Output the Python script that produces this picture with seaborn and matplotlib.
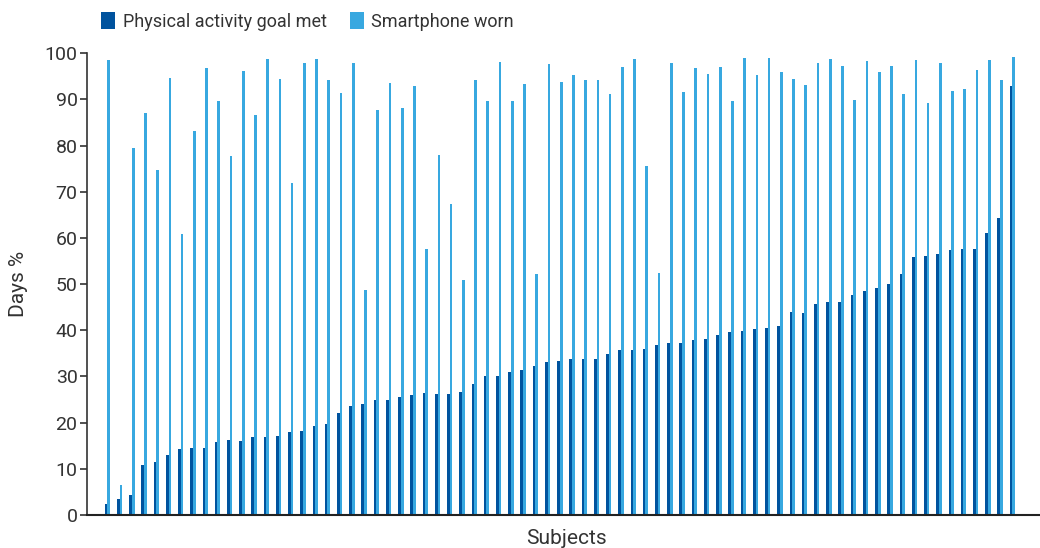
import pandas as pd
import seaborn as sns
import matplotlib.pyplot as plt
from matplotlib.patches import Patch

# Valores (% de días por sujeto)
activity_goal_met = [2.4, 3.5, 4.4, 10.9, 11.5, 12.9, 14.3, 14.6, 14.6, 15.9,
                     16.3, 16.1, 16.8, 17.0, 17.2, 17.9, 18.1, 19.3, 19.8, 22.1,
                     23.7, 24.1, 24.8, 25.0, 25.6, 26.0, 26.4, 26.2, 26.3, 26.7,
                     28.4, 30.0, 30.2, 31.0, 31.4, 32.3, 33.2, 33.4, 33.8, 33.8,
                     33.8, 34.8, 35.8, 35.8, 36.0, 36.9, 37.2, 37.3, 38.0, 38.2,
                     38.9, 39.6, 39.9, 40.3, 40.4, 41.0, 43.9, 43.7, 45.6, 46.1,
                     46.1, 47.7, 48.5, 49.2, 50.0, 52.1, 55.9, 56.2, 56.5, 57.4,
                     57.7, 57.6, 61.1, 64.3, 92.9]
smartphone_worn = [98.5, 6.6, 79.4, 87.0, 74.8, 94.6, 60.8, 83.1, 96.8, 89.6,
                   77.7, 96.1, 86.6, 98.8, 94.5, 72.0, 98.0, 98.8, 94.3, 91.4,
                   97.8, 48.8, 87.7, 93.5, 88.1, 93.0, 57.7, 77.9, 67.4, 50.9,
                   94.2, 89.6, 98.2, 89.6, 93.3, 52.1, 97.6, 93.7, 95.2, 94.3,
                   94.3, 91.1, 97.0, 98.8, 75.6, 52.4, 97.8, 91.6, 96.8, 95.5,
                   97.0, 89.6, 98.9, 95.3, 98.9, 95.9, 94.5, 93.2, 98.0, 98.8,
                   97.2, 89.8, 98.3, 95.9, 97.3, 91.1, 98.5, 89.3, 98.0, 91.8,
                   92.3, 96.3, 98.6, 94.2, 99.3]
series_names = ['Physical activity goal met', 'Smartphone worn']
colors = ['#00539E', '#38A8E0']

subjects = list(range(1, len(activity_goal_met) + 1))

# Formato largo para seaborn
df = pd.DataFrame({
    'subject': subjects * 2,
    'value': activity_goal_met + smartphone_worn,
    'series': [series_names[0]] * len(subjects) + [series_names[1]] * len(subjects),
})

sns.set_style('white')
plt.rcParams['font.family'] = ['Roboto', 'DejaVu Sans']

fig = plt.figure(figsize=(10.4, 5.48), dpi=100)
ax = fig.add_axes([87.3 / 1040, 1 - 515 / 548, (1040 - 87.3) / 1040, (515 - 53.3) / 548])

sns.barplot(data=df, x='subject', y='value', hue='series', hue_order=series_names,
            palette=colors, width=0.44, gap=0, saturation=1, linewidth=0,
            legend=False, ax=ax)

ax.set_xlim(-1.64, 76.26)
ax.set_ylim(0, 100)
ax.set_yticks(range(0, 101, 10))
ax.set_xticks([])
ax.tick_params(axis='y', which='both', left=True, length=5, width=1.2,
               color='#333333', labelsize=14, labelcolor='#333333', pad=2)
for side in ['top', 'right']:
    ax.spines[side].set_visible(False)
ax.spines['left'].set_color('#333333')
ax.spines['left'].set_linewidth(1.2)
ax.spines['bottom'].set_color('#222222')
ax.spines['bottom'].set_linewidth(1.5)

ax.set_xlabel('Subjects', fontsize=15, color='#333333')
ax.set_ylabel('Days %', fontsize=15, color='#333333')
ax.xaxis.set_label_coords((566 - 87.3) / (1040 - 87.3), -0.03)
ax.xaxis.label.set_va('top')
ax.yaxis.set_label_coords(-(87.3 - 18) / (1040 - 87.3), 0.5)
ax.yaxis.label.set_va('center')

handles = [Patch(facecolor=c, edgecolor='none') for c in colors]
fig.legend(handles, series_names, loc='upper left', bbox_to_anchor=(94 / 1040, 1 - 5 / 548),
           ncol=2, frameon=False, fontsize=13, labelcolor='#333333',
           handlelength=0.78, handleheight=1.05, handletextpad=0.4,
           columnspacing=1.3, borderaxespad=0)

plt.savefig('out.png', dpi=100)
